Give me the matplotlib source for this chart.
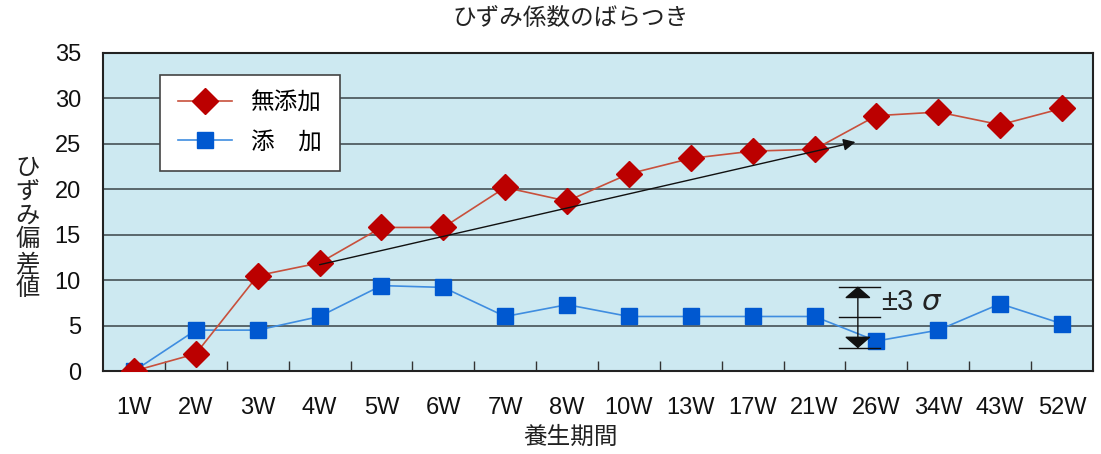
import numpy as np
import matplotlib.pyplot as plt
from matplotlib.ticker import FixedLocator

plt.rcParams['font.family'] = ['Liberation Sans', 'Noto Sans CJK JP', 'DejaVu Sans']

# 養生期間ごとのひずみ偏差値
weeks = ['1W', '2W', '3W', '4W', '5W', '6W', '7W', '8W',
         '10W', '13W', '17W', '21W', '26W', '34W', '43W', '52W']
no_additive = [0, 1.9, 10.5, 11.9, 15.8, 15.8, 20.2, 18.7,
               21.7, 23.4, 24.2, 24.4, 28.1, 28.5, 27.1, 28.9]
additive = [0, 4.5, 4.5, 6.0, 9.4, 9.2, 6.0, 7.3,
            6.0, 6.0, 6.0, 6.0, 3.3, 4.5, 7.4, 5.2]
sigma_levels = [2.5, 5.9, 9.3]

x = np.arange(len(weeks))

fig = plt.figure(figsize=(11.01, 4.54), dpi=100)
ax = fig.add_axes([0.0936, 0.1828, 0.8991, 0.7005])
ax.set_facecolor('#cde9f1')

for y in range(5, 35, 5):
    ax.axhline(y, color='#3a4448', lw=1.1, zorder=1)

ax.plot(x, no_additive, color='#c8503c', lw=1.2, marker='D', ms=13,
        mfc='#bb0000', mec='#bb0000', label='無添加', zorder=4)
ax.plot(x, additive, color='#3f8de0', lw=1.2, marker='s', ms=12,
        mfc='#0058d0', mec='#0058d0', label='添\u3000加', zorder=3)

# 傾向を示す矢印
ax.annotate('', xy=(11.66, 25.2), xytext=(3.0, 11.7),
            arrowprops=dict(arrowstyle='-|>', color='#111111', lw=1.0,
                            mutation_scale=18, shrinkA=0, shrinkB=0),
            zorder=5)

# ±3σ の幅
sx = 11.70
for lv in sigma_levels:
    ax.plot([sx - 0.31, sx + 0.35], [lv, lv], color='#111111', lw=1.0, zorder=5)
ax.annotate('', xy=(sx, sigma_levels[2]), xytext=(sx, sigma_levels[0]),
            arrowprops=dict(arrowstyle='<|-|>,head_length=0.33,head_width=0.38',
                            color='#111111', lw=1.0, mutation_scale=22,
                            shrinkA=0, shrinkB=0),
            zorder=5)
ax.text(12.08, 7.6, '±3 $\\mathit{\\sigma}$', fontsize=21, va='center',
        ha='left', color='#222222', zorder=5)

ax.set_xlim(-0.5, len(weeks) - 0.5)
ax.set_ylim(0, 35)
ax.set_xticks(x)
ax.set_xticklabels(weeks)
ax.xaxis.set_minor_locator(FixedLocator(np.arange(0.5, len(weeks) - 1, 1)))
ax.tick_params(axis='x', which='major', length=0, pad=19, labelsize=17,
               labelcolor='#111111')
ax.tick_params(axis='x', which='minor', direction='in', length=7,
               width=1.0, color='#333333')
ax.set_yticks(range(0, 36, 5))
ax.tick_params(axis='y', length=0, pad=16, labelsize=17, labelcolor='#111111')

for s in ax.spines.values():
    s.set_color('#222222')
    s.set_linewidth(1.5)

leg = ax.legend(loc='upper left', bbox_to_anchor=(0.0576, 0.931),
                borderaxespad=0, fontsize=17, frameon=True, fancybox=False,
                handlelength=2.3, borderpad=0.75, labelspacing=0.7,
                handletextpad=0.8)
leg.get_frame().set_edgecolor('#444444')
leg.get_frame().set_linewidth(1.2)
leg.get_frame().set_facecolor('white')
leg.get_frame().set_alpha(1.0)
leg.set_zorder(6)

fig.text(0.518, 0.958, 'ひずみ係数のばらつき', fontsize=17, ha='center',
         va='center', color='#222222')
fig.text(0.518, 0.035, '養生期間', fontsize=17, ha='center', va='center',
         color='#222222')
fig.text(0.025, 0.495, '\n'.join('ひずみ偏差値'), fontsize=17.5, ha='center',
         va='center', linespacing=1.1, color='#222222')

fig.savefig('out.png', dpi=100)
